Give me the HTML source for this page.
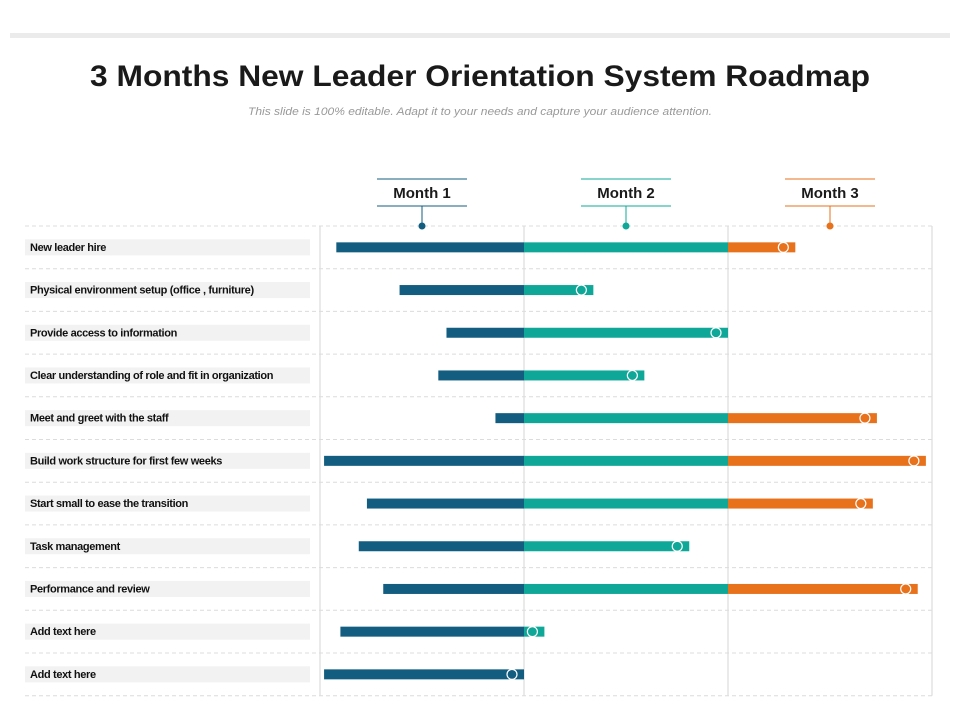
<!DOCTYPE html>
<html><head><meta charset="utf-8">
<style>
body{margin:0;background:#fff;font-family:"Liberation Sans",Arial,sans-serif;}
#wrap{position:relative;width:960px;height:720px;overflow:hidden;}
</style></head>
<body>
<div id="wrap">
<svg id="chart" width="960" height="720" xmlns="http://www.w3.org/2000/svg">
  <rect x="10" y="33" width="940" height="5" fill="#ebebeb"/>
  <text x="90" y="86" textLength="780" lengthAdjust="spacingAndGlyphs" font-size="30" font-weight="bold" fill="#1a1a1a">3 Months New Leader Orientation System Roadmap</text>
  <text x="248" y="115" textLength="464" lengthAdjust="spacingAndGlyphs" font-size="11" font-style="italic" fill="#999">This slide is 100% editable. Adapt it to your needs and capture your audience attention.</text>
  <g id="grid"></g><g id="labels"></g><g id="bars"></g><g id="months"></g>
</svg>
</div>
<script>
const tasks=["New leader hire","Physical environment setup (office , furniture)","Provide access to information","Clear understanding of role and fit in organization","Meet and greet with the staff","Build work structure for first few weeks","Start small to ease the transition","Task management","Performance and review","Add text here","Add text here"];
const startMonths=[0.08,0.39,0.62,0.58,0.86,0.02,0.23,0.19,0.31,0.10,0.02];
const endMonths=[2.33,1.34,2.00,1.59,2.73,2.97,2.71,1.81,2.93,1.10,1.00];
const monthLabels=["Month 1","Month 2","Month 3"];
const colors=["#135d80","#0fa898","#e8711c"];
const NS="http://www.w3.org/2000/svg";
const x0=320,mw=204,top0=226,rowH=42.7;
const xs=v=>x0+v*mw;
const yRow=i=>top0+rowH*(i+0.5);
function mk(tag,attrs,parent){const e=document.createElementNS(NS,tag);for(const k in attrs)e.setAttribute(k,attrs[k]);parent.appendChild(e);return e;}
const grid=document.getElementById('grid'),labels=document.getElementById('labels'),bars=document.getElementById('bars'),months=document.getElementById('months');
for(let m=0;m<=3;m++){
  const l=mk('line',{x1:xs(m),x2:xs(m),y1:top0,y2:top0+rowH*tasks.length,stroke:'#d6d6d6','stroke-width':1},grid);
  
  
}
for(let i=0;i<=tasks.length;i++){
  const y=top0+rowH*i;
  const l=mk('line',{x1:25,x2:932,y1:y,y2:y,stroke:'#dcdcdc','stroke-width':1,'stroke-dasharray':'4,3'},grid);
  
  
}
tasks.forEach((t,i)=>{
  const y=yRow(i);
  const r=mk('rect',{x:25,y:y-8,width:285,height:16,fill:'#f2f2f2'},labels);
  
  
  const tx=mk('text',{x:30,y:y+3.5,'font-size':11,'letter-spacing':'-0.35','font-weight':'bold',fill:'#111'},labels);
  tx.textContent=t;
  
  
  const s=startMonths[i],e=endMonths[i];
  for(let m=0;m<3;m++){
    const a=Math.max(s,m),b=Math.min(e,m+1);
    if(b>a){
      const seg=mk('rect',{x:xs(a),y:y-5,width:xs(b)-xs(a),height:10,fill:colors[m]},bars);
      
      
    }
  }
  const cx=xs(e)-12;
  const mi=Math.min(2,Math.floor((cx-x0)/mw));
  const c=mk('circle',{cx:cx,cy:y,r:5,fill:colors[mi],stroke:'#fff','stroke-width':1.2},bars);
  
  
});
monthLabels.forEach((ml,m)=>{
  const cx=xs(m+0.5);
  const g=mk('g',{},months);
  
  
  mk('line',{x1:cx-45,x2:cx+45,y1:179,y2:179,stroke:colors[m],'stroke-width':1},g);
  mk('line',{x1:cx-45,x2:cx+45,y1:206,y2:206,stroke:colors[m],'stroke-width':1},g);
  mk('line',{x1:cx,x2:cx,y1:206,y2:226,stroke:colors[m],'stroke-width':1},g);
  mk('circle',{cx:cx,cy:226,r:3.5,fill:colors[m]},g);
  const t=mk('text',{x:cx,y:198,'text-anchor':'middle','font-size':15,'font-weight':'bold',fill:'#1a1a1a'},g);
  t.textContent=ml;
});
</script>
</body></html>
